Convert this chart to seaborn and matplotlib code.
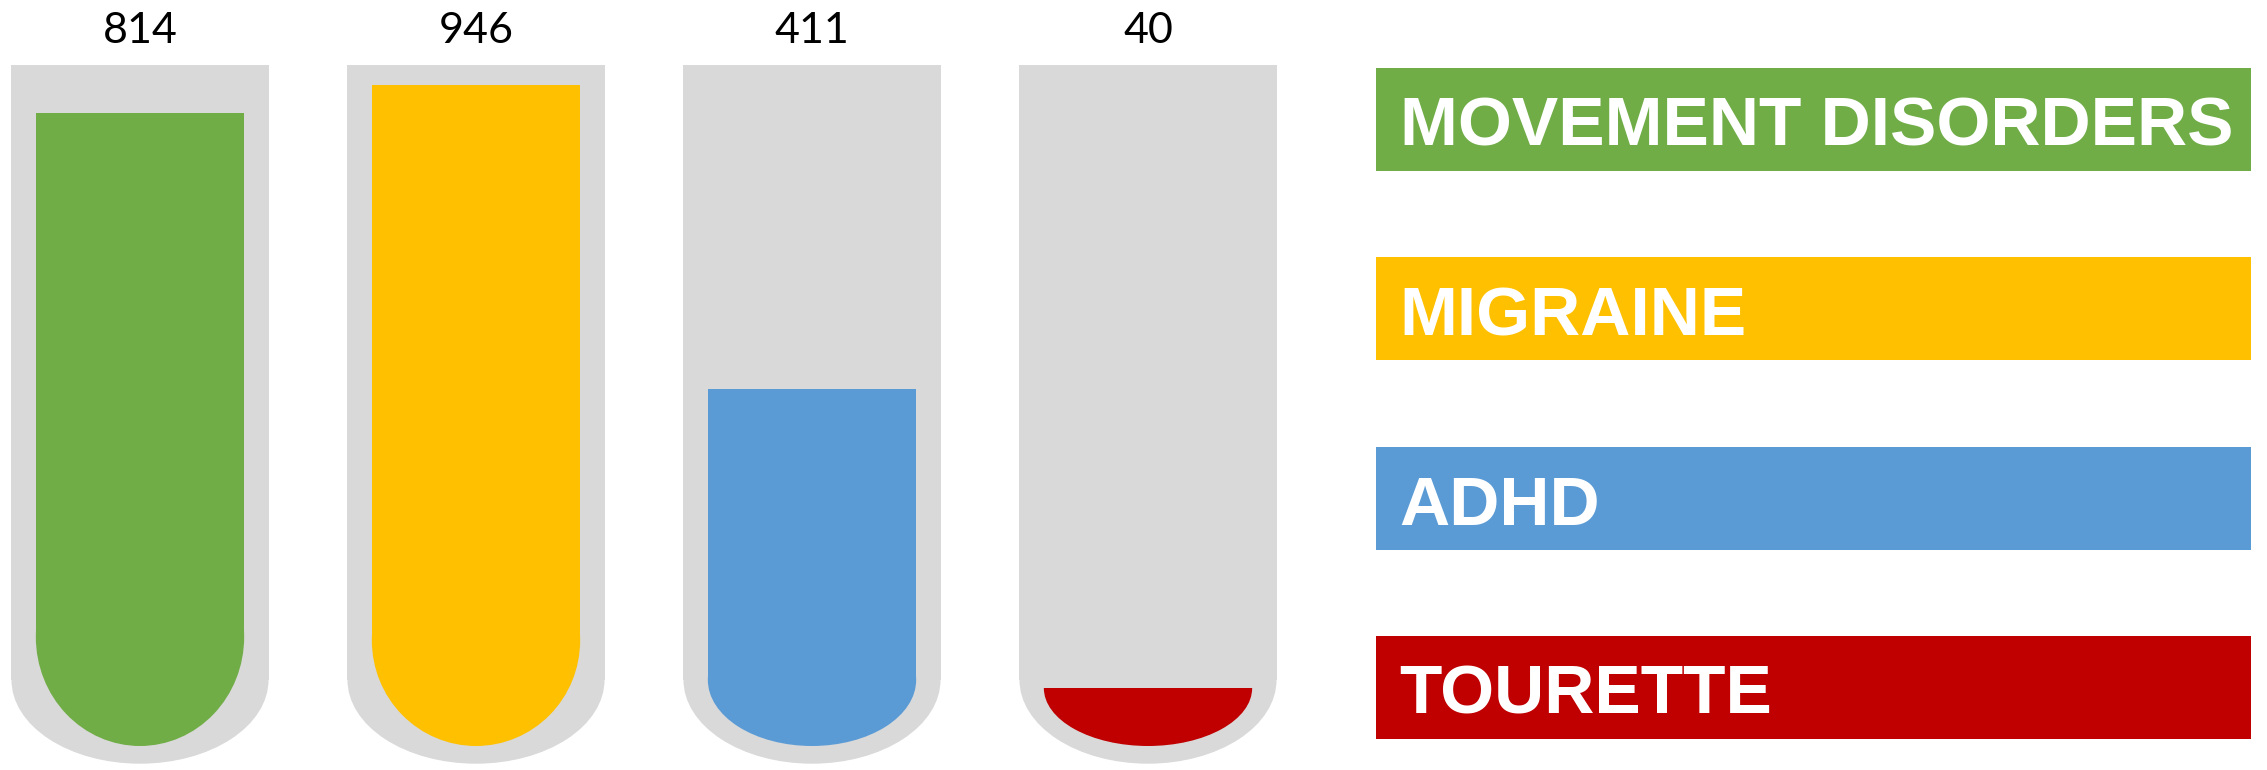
import matplotlib
matplotlib.use("Agg")
import matplotlib.pyplot as plt
from matplotlib.patches import Ellipse, Rectangle
import seaborn as sns

# data
conditions = ["MOVEMENT DISORDERS", "MIGRAINE", "ADHD", "TOURETTE"]
counts = [814, 946, 411, 40]
# liquid level in each tube, % of tube height (0 = bottom of the liquid)
fill_level = [93.0, 97.0, 52.4, 8.5]

colors = ["#70AD47", "#FFC000", "#5B9BD5", "#C00000"]
tube_grey = "#D9D9D9"

# tube geometry (style)
tube_top = 100
tube_base = 9.7        # where the straight wall ends
tube_bulb = 12.3       # depth of the round bottom
tube_w = 0.765
fill_w = 0.62
fill_bulb = [16.0, 15.5, 9.7, 8.5]

sns.set_theme(style="white")
plt.rcParams["font.family"] = ["Liberation Sans", "DejaVu Sans"]

fig = plt.figure(figsize=(22.67, 7.70), dpi=100)

# ---- test tubes ----
ax = fig.add_axes([0, 0, 1330 / 2267, 1])
x_pos = list(range(len(conditions)))

sns.barplot(x=conditions, y=[tube_top - tube_base] * 4, order=conditions,
            bottom=tube_base, color=tube_grey, width=tube_w,
            linewidth=0, zorder=1, ax=ax)
for i in x_pos:
    ax.add_patch(Ellipse((i, tube_base), tube_w, 2 * tube_bulb,
                         color=tube_grey, lw=0, zorder=1))

heights = [lvl - b for lvl, b in zip(fill_level, fill_bulb)]
sns.barplot(x=conditions, y=heights, order=conditions, bottom=fill_bulb,
            color=colors[0], width=fill_w, linewidth=0, zorder=2, ax=ax)
for bar, c in zip(ax.containers[-1], colors):
    bar.set_facecolor(c)

for i, (lvl, b, c) in enumerate(zip(fill_level, fill_bulb, colors)):
    ell = Ellipse((i, b), fill_w, 2 * b, color=c, lw=0, zorder=2)
    ax.add_patch(ell)
    clip = Rectangle((i - fill_w, -5), 2 * fill_w, lvl + 5, transform=ax.transData)
    ell.set_clip_path(clip)

for i, n in enumerate(counts):
    ax.text(i, 103.2, str(n), ha="center", va="baseline", fontsize=31,
            family=["Lato", "DejaVu Sans"], color="black")

ax.set_xlim(-140 / 336, (1330 - 140) / 336)
ax.set_ylim(-24 / 6.81, 746 / 6.81)
ax.axis("off")

# ---- legend boxes ----
lax = fig.add_axes([1376 / 2267, 0, (2251 - 1376) / 2267, 1])
sns.barplot(x=[1] * 4, y=conditions, order=conditions, orient="h",
            color=colors[0], width=0.545, linewidth=0, ax=lax)
for bar, c in zip(lax.containers[-1], colors):
    bar.set_facecolor(c)
for i, name in enumerate(conditions):
    lax.text(0.027, i + 0.14, name, ha="left", va="baseline", fontsize=50,
             fontweight="bold", color="white")
lax.set_xlim(0, 1)
lax.set_ylim(3.436, -0.631)
lax.axis("off")

fig.savefig("out.png", dpi=100)
